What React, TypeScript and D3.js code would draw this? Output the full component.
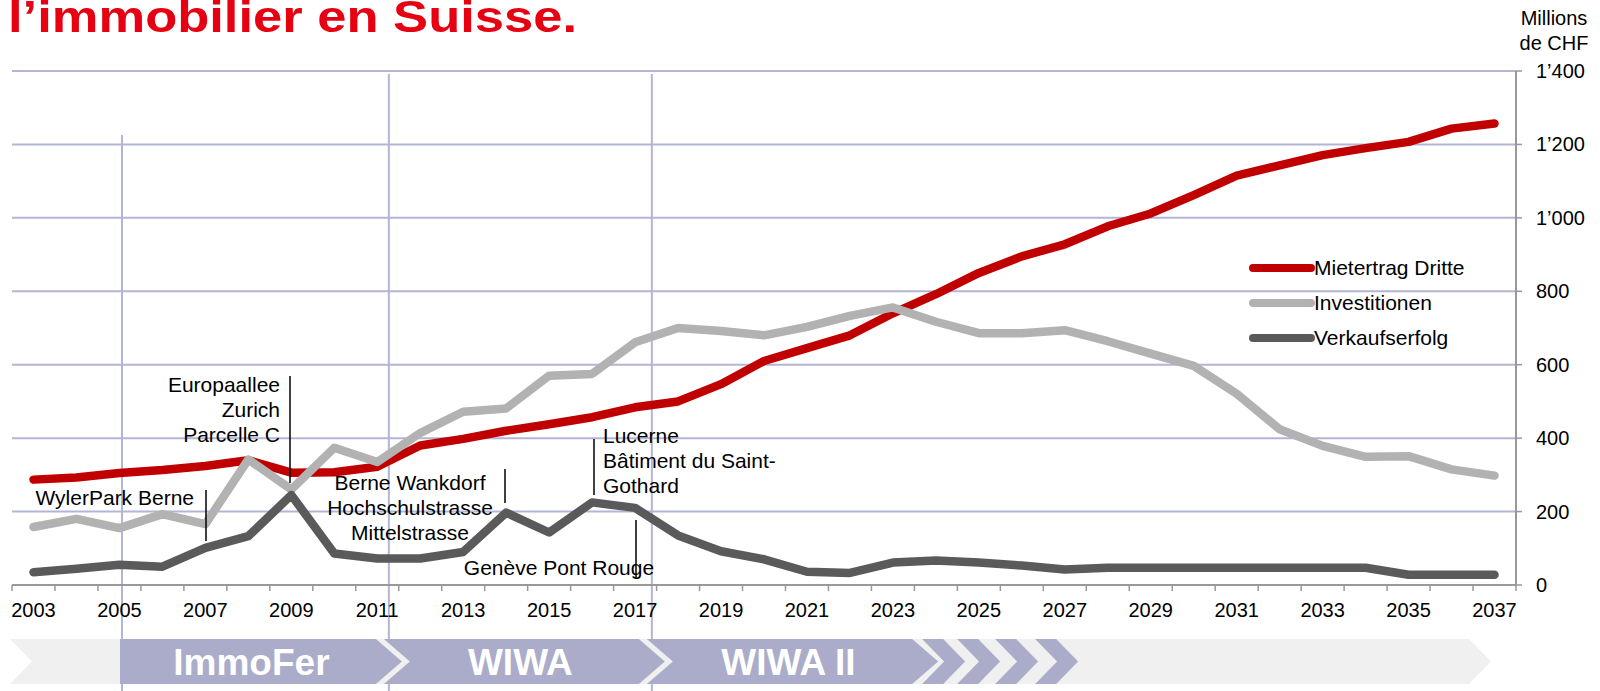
import React from 'react';
import * as d3 from 'd3';

const years = [2003, 2004, 2005, 2006, 2007, 2008, 2009, 2010, 2011, 2012, 2013, 2014, 2015, 2016, 2017, 2018, 2019, 2020,
  2021, 2022, 2023, 2024, 2025, 2026, 2027, 2028, 2029, 2030, 2031, 2032, 2033, 2034, 2035, 2036, 2037];

const mietertrag = [287, 293, 305, 313, 324, 340, 306, 307, 322, 380, 398, 420, 438, 457, 484, 500, 547, 610, 645, 680,
  740, 792, 850, 895, 928, 977, 1012, 1062, 1115, 1143, 1171, 1190, 1207, 1243, 1257];
const investitionen = [158, 180, 155, 193, 166, 342, 260, 374, 335, 414, 472, 481, 570, 575, 661, 700, 692, 680, 703, 733,
  756, 717, 686, 686, 694, 664, 630, 597, 521, 424, 379, 349, 351, 315, 298];
const verkaufserfolg = [35, 44, 55, 50, 101, 133, 245, 86, 72, 72, 90, 197, 143, 225, 210, 135, 92, 70, 36, 33,
  61, 67, 61, 53, 42, 47, 47, 47, 47, 47, 47, 47, 28, 28, 28];

const seriesNames = ['Mietertrag Dritte', 'Investitionen', 'Verkaufserfolg'];
const seriesColors = ['#c00000', '#b2b2b2', '#5a5a5a'];

const yTicks = [0, 200, 400, 600, 800, 1000, 1200, 1400];
const yTickLabels = ['0', '200', '400', '600', '800', '1’000', '1’200', '1’400'];

// phases on the timeline (fractional year where the vertical line sits)
const phaseNames = ['ImmoFer', 'WIWA', 'WIWA II'];
const phaseStarts = [2005.06, 2011.27, 2017.39];
const phaseEnd = 2023.75;
const lineTops = [135, 74, 74];

const annotations = [
  { lines: ['WylerPark Berne'], x: 194, y: 505, anchor: 'end', lx: 206, ly1: 490, ly2: 541 },
  { lines: ['Europaallee', 'Zurich', 'Parcelle C'], x: 280, y: 392, anchor: 'end', lx: 290, ly1: 376, ly2: 483 },
  { lines: ['Berne Wankdorf', 'Hochschulstrasse', 'Mittelstrasse'], x: 410, y: 490, anchor: 'middle', lx: 505, ly1: 469, ly2: 503 },
  { lines: ['Lucerne', 'Bâtiment du Saint-', 'Gothard'], x: 603, y: 443, anchor: 'start', lx: 594, ly1: 439, ly2: 495 },
  { lines: ['Genève Pont Rouge'], x: 559, y: 575, anchor: 'middle', lx: 636, ly1: 520, ly2: 578 },
];

const W = 1600, H = 691;
const left = 12, right = 1516, top = 71, bottom = 585;
const font = '"Liberation Sans", Arial, sans-serif';
const grid = '#b3b5d7';
const purple = '#aaacca';

const chevron = (xl, xr, d, t, b, notch) => {
  const m = (t + b) / 2;
  const pts = [[xl, t], [xr, t], [xr + d, m], [xr, b], [xl, b]];
  if (notch) pts.push([xl + d, m]);
  return pts.map(p => p.join(',')).join(' ');
};

const App = () => {
  const x = d3.scaleBand().domain(years).range([left, right]);
  const xYear = d3.scaleLinear().domain([2002.5, 2037.5]).range([left, right]);
  const y = d3.scaleLinear().domain([0, 1400]).range([bottom, top]);
  const cx = d => x(d) + x.bandwidth() / 2;

  const line = d3.line().x((d, i) => cx(years[i])).y(d => y(d));
  const allSeries = [mietertrag, investitionen, verkaufserfolg];

  const bandT = 639, bandB = 684;
  const px = phaseStarts.map(xYear);
  const pEnd = xYear(phaseEnd);
  const segs = [
    chevron(px[0] - 2, px[1] - 13, 26, bandT, bandB, false),
    chevron(px[1] - 5, px[2] - 13, 26, bandT, bandB, true),
    chevron(px[2] - 5, pEnd - 13, 26, bandT, bandB, true),
  ];
  const small = [10, 45, 83, 123].map(o => chevron(pEnd - 13 + o, pEnd - 13 + o + 21, 22, bandT, bandB, true));
  const centers = [(px[0] + px[1]) / 2 - 4, (px[1] + px[2]) / 2, (px[2] + pEnd) / 2];

  return (
    <svg width={W} height={H} style={{ position: 'absolute', left: 0, top: 0, display: 'block', background: '#fff' }}
      fontFamily={font}>
      <text x={8} y={32} fontSize={44} fontWeight="bold" fill="#e60012" textLength={569} lengthAdjust="spacingAndGlyphs">
        l’immobilier en Suisse.
      </text>

      {/* gridlines */}
      {yTicks.slice(1).map(t => (
        <line key={t} x1={left} x2={right} y1={y(t)} y2={y(t)} stroke={grid} strokeWidth={2} />
      ))}

      {/* phase lines */}
      {px.map((p, i) => (
        <line key={i} x1={p} x2={p} y1={lineTops[i]} y2={H} stroke={grid} strokeWidth={2} />
      ))}

      {/* axes */}
      <line x1={left} x2={right} y1={bottom} y2={bottom} stroke="#999" strokeWidth={2} />
      {d3.range(years.length + 1).map(i => {
        const xx = left + i * x.bandwidth();
        return <line key={i} x1={xx} x2={xx} y1={bottom} y2={bottom + 6} stroke="#999" strokeWidth={1.5} />;
      })}
      <line x1={right} x2={right} y1={top} y2={bottom} stroke="#999" strokeWidth={2} />
      {yTicks.map((t, i) => (
        <g key={t}>
          <line x1={right} x2={right + 6} y1={y(t)} y2={y(t)} stroke="#999" strokeWidth={1.5} />
          <text x={1536} y={y(t)} dy="0.35em" fontSize={20} fill="#000">{yTickLabels[i]}</text>
        </g>
      ))}
      <text x={1554} y={25} fontSize={20} textAnchor="middle">Millions</text>
      <text x={1554} y={50} fontSize={20} textAnchor="middle">de CHF</text>

      {years.filter((d, i) => i % 2 === 0).map(d => (
        <text key={d} x={cx(d)} y={617} fontSize={20} textAnchor="middle">{d}</text>
      ))}

      {/* series */}
      {allSeries.map((s, i) => (
        <path key={i} d={line(s)} fill="none" stroke={seriesColors[i]} strokeWidth={8.5}
          strokeLinejoin="round" strokeLinecap="round" />
      ))}

      {/* legend */}
      {seriesNames.map((n, i) => (
        <g key={n} transform={`translate(1253, ${268 + i * 35})`}>
          <line x1={0} x2={58} y1={0} y2={0} stroke={seriesColors[i]} strokeWidth={8} strokeLinecap="round" />
          <text x={61} y={0} dy="0.35em" fontSize={21}>{n}</text>
        </g>
      ))}

      {/* annotations */}
      {annotations.map((a, i) => (
        <g key={i}>
          <line x1={a.lx} x2={a.lx} y1={a.ly1} y2={a.ly2} stroke="#000" strokeWidth={1.5} />
          {a.lines.map((l, j) => (
            <text key={j} x={a.x} y={a.y + j * 25} fontSize={21} textAnchor={a.anchor}>{l}</text>
          ))}
        </g>
      ))}

      {/* timeline band */}
      <polygon points={chevron(10, 1469, 22, bandT, bandB, true)} fill="#f0f0f0" />
      {segs.map((p, i) => <polygon key={i} points={p} fill={purple} />)}
      {small.map((p, i) => <polygon key={'s' + i} points={p} fill={purple} />)}
      {phaseNames.map((n, i) => (
        <text key={n} x={centers[i]} y={675} fontSize={37} fontWeight="bold" fill="#fff" textAnchor="middle">{n}</text>
      ))}
    </svg>
  );
};

export default App;
